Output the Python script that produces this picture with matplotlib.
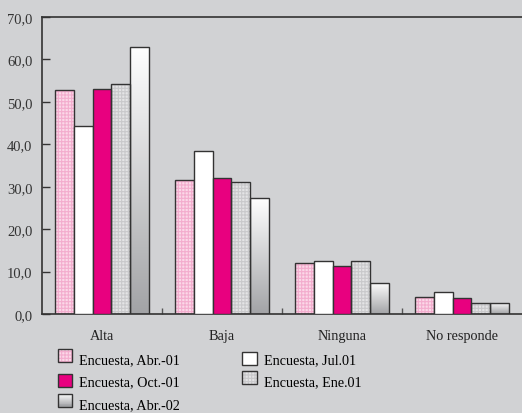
import matplotlib
matplotlib.use("Agg")
import matplotlib.pyplot as plt
import numpy as np
from matplotlib.patches import Patch, Rectangle
from matplotlib.legend_handler import HandlerBase

# Datos de la encuesta (porcentajes)
categorias = ["Alta", "Baja", "Ninguna", "No responde"]
abr_01 = [52.7, 31.6, 12.0, 4.1]
jul_01 = [44.4, 38.3, 12.4, 5.1]
oct_01 = [53.1, 32.1, 11.3, 3.8]
ene_01 = [54.3, 31.0, 12.5, 2.6]
abr_02 = [63.0, 27.3, 7.4, 2.6]
nombres = ["Encuesta, Abr.-01", "Encuesta, Jul.01", "Encuesta, Oct.-01",
           "Encuesta, Ene.01", "Encuesta, Abr.-02"]
yticks = [0, 10, 20, 30, 40, 50, 60, 70]

fondo = "#d1d2d4"
borde = "#333333"
plt.rcParams["font.family"] = ["Liberation Serif", "DejaVu Serif"]
plt.rcParams["hatch.linewidth"] = 0.8

fig = plt.figure(figsize=(5.22, 4.14), dpi=100, facecolor=fondo)
ax = fig.add_axes([42 / 522, 1 - 315 / 414, 1 - 42 / 522, (315 - 18) / 414])
ax.set_facecolor(fondo)

x = np.arange(len(categorias))
ancho = 0.156
series = [abr_01, jul_01, oct_01, ene_01, abr_02]
offsets = (np.arange(5) - 2) * ancho

# estilos: (relleno, color de trama, trama)
rosa, rosa_trama = "#fbd8e8", "#f3adce"
gris, gris_trama = "#e4e4e5", "#c9c9cb"
magenta = "#e8007f"
estilos = [
    (rosa, rosa_trama, "+++++"),
    ("white", None, None),
    (magenta, None, None),
    (gris, gris_trama, "+++++"),
    (None, None, None),
]

degradado = np.linspace(1, 0, 256).reshape(-1, 1)
cmap_gris = matplotlib.colors.LinearSegmentedColormap.from_list(
    "gris", ["#a2a3a6", "#ffffff"])

for vals, off, (fc, hc, hatch) in zip(series, offsets, estilos):
    xs = x + off
    if fc is None:
        # barras con degradado vertical blanco -> gris
        barras = ax.bar(xs, vals, ancho, color="none", edgecolor=borde,
                        linewidth=1.0, zorder=3)
        for b in barras:
            im = ax.imshow(degradado, cmap=cmap_gris, aspect="auto",
                           extent=[b.get_x(), b.get_x() + b.get_width(), 0, b.get_height()],
                           zorder=2, interpolation="bilinear")
            im.set_clip_path(b)
        continue
    if hatch:
        ax.bar(xs, vals, ancho, color=fc, edgecolor=hc, linewidth=0,
               hatch=hatch, zorder=2)
        ax.bar(xs, vals, ancho, fill=False, edgecolor=borde, linewidth=1.0, zorder=3)
    else:
        ax.bar(xs, vals, ancho, color=fc, edgecolor=borde, linewidth=1.0, zorder=3)

ax.set_xlim(-0.5, len(categorias) - 0.5)
ax.set_ylim(0, 70)

ax.set_xticks(x)
ax.set_xticklabels(categorias, fontsize=10.3, color="#222222")
ax.tick_params(axis="x", which="major", length=0, pad=11)
ax.set_xticks(x[1:] - 0.5, minor=True)
ax.tick_params(axis="x", which="minor", direction="in", length=4,
               width=1, color="#555555")

ax.set_yticks(yticks)
ax.set_yticklabels([f"{v:.1f}".replace(".", ",") for v in yticks],
                   fontsize=10.5, color="#333333")
ax.tick_params(axis="y", direction="in", length=6, width=1,
               color=borde, pad=7)

for lado in ["left", "bottom", "top"]:
    ax.spines[lado].set_color(borde)
    ax.spines[lado].set_linewidth(1.2)
ax.spines["right"].set_visible(False)


class HandlerTrama(HandlerBase):
    # cuadro de leyenda con fondo, trama y borde separados
    def __init__(self, fc, hc):
        super().__init__()
        self.fc, self.hc = fc, hc

    def create_artists(self, legend, orig_handle, xd, yd, w, h, fontsize, trans):
        fondo_r = Rectangle((xd, yd), w, h, facecolor=self.fc, edgecolor=self.hc,
                            linewidth=0, hatch="+++++", transform=trans)
        marco = Rectangle((xd, yd), w, h, fill=False, edgecolor=borde,
                          linewidth=1.0, transform=trans)
        return [fondo_r, marco]


class HandlerDegradado(HandlerBase):
    def create_artists(self, legend, orig_handle, xd, yd, w, h, fontsize, trans):
        arts = []
        n = 14
        for i in range(n):
            c = cmap_gris(1 - i / (n - 1))
            r = Rectangle((xd, yd + h * (n - 1 - i) / n), w, h / n + 0.2,
                          facecolor=c, edgecolor="none", transform=trans)
            arts.append(r)
        arts.append(Rectangle((xd, yd), w, h, fill=False, edgecolor=borde,
                              linewidth=1.0, transform=trans))
        return arts


h_abr01 = Patch(facecolor=rosa)
h_jul01 = Patch(facecolor="white", edgecolor=borde, linewidth=1.0)
h_oct01 = Patch(facecolor=magenta, edgecolor=borde, linewidth=1.0)
h_ene01 = Patch(facecolor=gris)
h_abr02 = Patch(facecolor="#dddddd")

fig.legend([h_abr01, h_oct01, h_abr02, h_jul01, h_ene01],
           [nombres[0], nombres[2], nombres[4], nombres[1], nombres[3]],
           ncol=2, loc="upper left", bbox_to_anchor=(58 / 522, 1 - 353 / 414),
           frameon=False, fontsize=10.2, handlelength=1.0, handleheight=1.0,
           handletextpad=0.5, labelspacing=0.58, columnspacing=4.4,
           borderpad=0, borderaxespad=0,
           handler_map={h_abr01: HandlerTrama(rosa, rosa_trama),
                        h_ene01: HandlerTrama(gris, gris_trama),
                        h_abr02: HandlerDegradado()})

fig.savefig("out.png", dpi=100, facecolor=fondo)
